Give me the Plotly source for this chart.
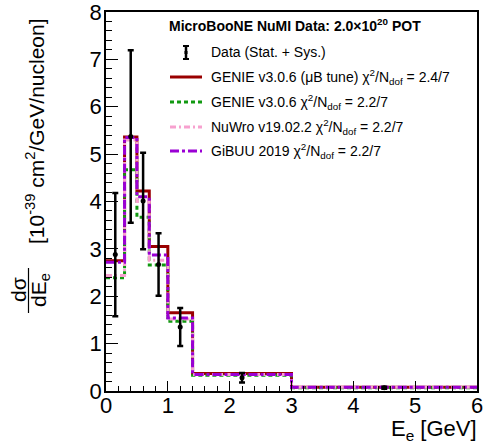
import plotly.graph_objects as go

# ---------------- data ----------------
bin_edges = [0.0, 0.3, 0.5, 0.7, 1.0, 1.4, 3.0, 6.0]
genie_ub_tune = [2.75, 5.36, 4.22, 3.05, 1.65, 0.37, 0.08]
genie_v306 = [2.39, 4.67, 3.67, 2.66, 1.47, 0.33, 0.07]
nuwro = [2.44, 5.30, 4.00, 2.76, 1.52, 0.35, 0.08]
gibuu = [2.72, 5.35, 4.10, 2.87, 1.54, 0.35, 0.08]
data_vals = [2.88, 5.37, 4.01, 2.67, 1.35, 0.28, 0.07]
data_errs = [1.30, 1.82, 1.02, 0.66, 0.40, 0.10, 0.02]

legend_header = "<b>MicroBooNE NuMI Data: 2.0×10<sup>20</sup> POT</b>"
legend_labels = [
    "Data (Stat. + Sys.)",
    "GENIE v3.0.6 (μB tune) χ<sup>2</sup>/N<sub>dof</sub> = 2.4/7",
    "GENIE v3.0.6 χ<sup>2</sup>/N<sub>dof</sub> = 2.2/7",
    "NuWro v19.02.2 χ<sup>2</sup>/N<sub>dof</sub> = 2.2/7",
    "GiBUU 2019 χ<sup>2</sup>/N<sub>dof</sub> = 2.2/7",
]
x_ticks = [0, 1, 2, 3, 4, 5, 6]
y_ticks = [0, 1, 2, 3, 4, 5, 6, 7, 8]

# ---------------- styles ----------------
RED = "#990000"
GREEN = "#119911"
PINK = "#f7a1cf"
PURPLE = "#9a00d4"
FONT = "Liberation Sans, Arial, Helvetica, sans-serif"

W, H = 485, 443
ML, MR, MT, MB = 106, 8, 12, 52
PW = W - ML - MR
PH = H - MT - MB


def px(xp):
    return (xp - ML) / PW


def py(yp):
    return (H - MB - yp) / PH


centers = [(bin_edges[i] + bin_edges[i + 1]) / 2 for i in range(len(bin_edges) - 1)]

fig = go.Figure()

styles = [
    (genie_ub_tune, RED, "solid", 3),
    (genie_v306, GREEN, "4px,3px", 3),
    (nuwro, PINK, "6px,3px,2px,3px", 3),
    (gibuu, PURPLE, "9px,3px,3px,3px", 3),
]
for vals, col, dash, w in styles:
    fig.add_trace(go.Scatter(
        x=bin_edges, y=list(vals) + [vals[-1]], mode="lines",
        line=dict(shape="hv", color=col, dash=dash, width=w),
        showlegend=False, hoverinfo="skip"))

fig.add_trace(go.Scatter(
    x=centers, y=data_vals, mode="markers",
    marker=dict(color="black", size=5),
    error_y=dict(type="data", array=data_errs, color="black", thickness=2.5, width=3),
    showlegend=False))

# ---------------- manual legend ----------------
shapes = []
annotations = []
annotations.append(dict(xref="paper", yref="paper", x=px(295), y=py(25), text=legend_header,
                        showarrow=False, xanchor="center", yanchor="middle",
                        font=dict(family=FONT, size=14, color="black")))
row_y = [52, 77, 102, 127, 151]
for lab, yy in zip(legend_labels, row_y):
    annotations.append(dict(xref="paper", yref="paper", x=px(209), y=py(yy), text=lab,
                            showarrow=False, xanchor="left", yanchor="middle",
                            font=dict(family=FONT, size=14, color="black")))
# data symbol
cx = 186
shapes.append(dict(type="line", xref="paper", yref="paper", x0=px(cx), x1=px(cx),
                   y0=py(46), y1=py(59), line=dict(color="black", width=2.5)))
for yy in (46, 59):
    shapes.append(dict(type="line", xref="paper", yref="paper", x0=px(cx - 3), x1=px(cx + 3),
                       y0=py(yy), y1=py(yy), line=dict(color="black", width=2)))
shapes.append(dict(type="line", xref="paper", yref="paper", x0=px(cx - 1.5), x1=px(cx + 1.5),
                   y0=py(52.5), y1=py(52.5), line=dict(color="black", width=3)))
for (vals, col, dash, w), yy in zip(styles, row_y[1:]):
    shapes.append(dict(type="line", xref="paper", yref="paper", x0=px(170), x1=px(202),
                       y0=py(yy), y1=py(yy), line=dict(color=col, width=w, dash=dash)))

# ---------------- axis titles ----------------
annotations.append(dict(xref="paper", yref="paper", x=px(479), y=py(430),
                        text="E<sub>e</sub> [GeV]", showarrow=False, xanchor="right",
                        yanchor="middle", font=dict(family=FONT, size=22, color="black")))
annotations.append(dict(xref="paper", yref="paper", x=px(35), y=py(131),
                        text="[10<sup>-39</sup> cm<sup>2</sup>/GeV/nucleon]", textangle=-90,
                        showarrow=False, xanchor="center", yanchor="middle",
                        font=dict(family=FONT, size=21, color="black")))
annotations.append(dict(xref="paper", yref="paper", x=px(18), y=py(290),
                        text="dσ", textangle=-90, showarrow=False, xanchor="center",
                        yanchor="middle", font=dict(family=FONT, size=21, color="black")))
annotations.append(dict(xref="paper", yref="paper", x=px(40), y=py(290),
                        text="dE<sub>e</sub>", textangle=-90, showarrow=False, xanchor="center",
                        yanchor="middle", font=dict(family=FONT, size=21, color="black")))
shapes.append(dict(type="line", xref="paper", yref="paper", x0=px(28.5), x1=px(28.5),
                   y0=py(268), y1=py(313), line=dict(color="black", width=1.2)))

axis_common = dict(
    showgrid=False, zeroline=False, showline=True, linecolor="black", linewidth=1.5,
    mirror=True, ticks="inside", tickcolor="black", tickwidth=1,
    tickfont=dict(family=FONT, size=22, color="black"), ticklabeloverflow="allow",
    automargin=False,
)
fig.update_xaxes(range=[0, 6], tickvals=x_ticks, ticklen=10, ticklabelstandoff=-6,
                 minor=dict(ticks="inside", ticklen=5, dtick=0.2, tickcolor="black", tickwidth=1),
                 **axis_common)
fig.update_yaxes(range=[0, 8], tickvals=y_ticks, ticklen=12, ticklabelstandoff=-2,
                 minor=dict(ticks="inside", ticklen=6, dtick=0.2, tickcolor="black", tickwidth=1),
                 **axis_common)

fig.update_layout(
    width=W, height=H, margin=dict(l=ML, r=MR, t=MT, b=MB),
    plot_bgcolor="white", paper_bgcolor="white",
    shapes=shapes, annotations=annotations, showlegend=False,
    font=dict(family=FONT, color="black"),
)
fig.write_html("out.html", config={"displayModeBar": False},
               post_script="document.body.style.margin='0';document.body.style.overflow='hidden';")
